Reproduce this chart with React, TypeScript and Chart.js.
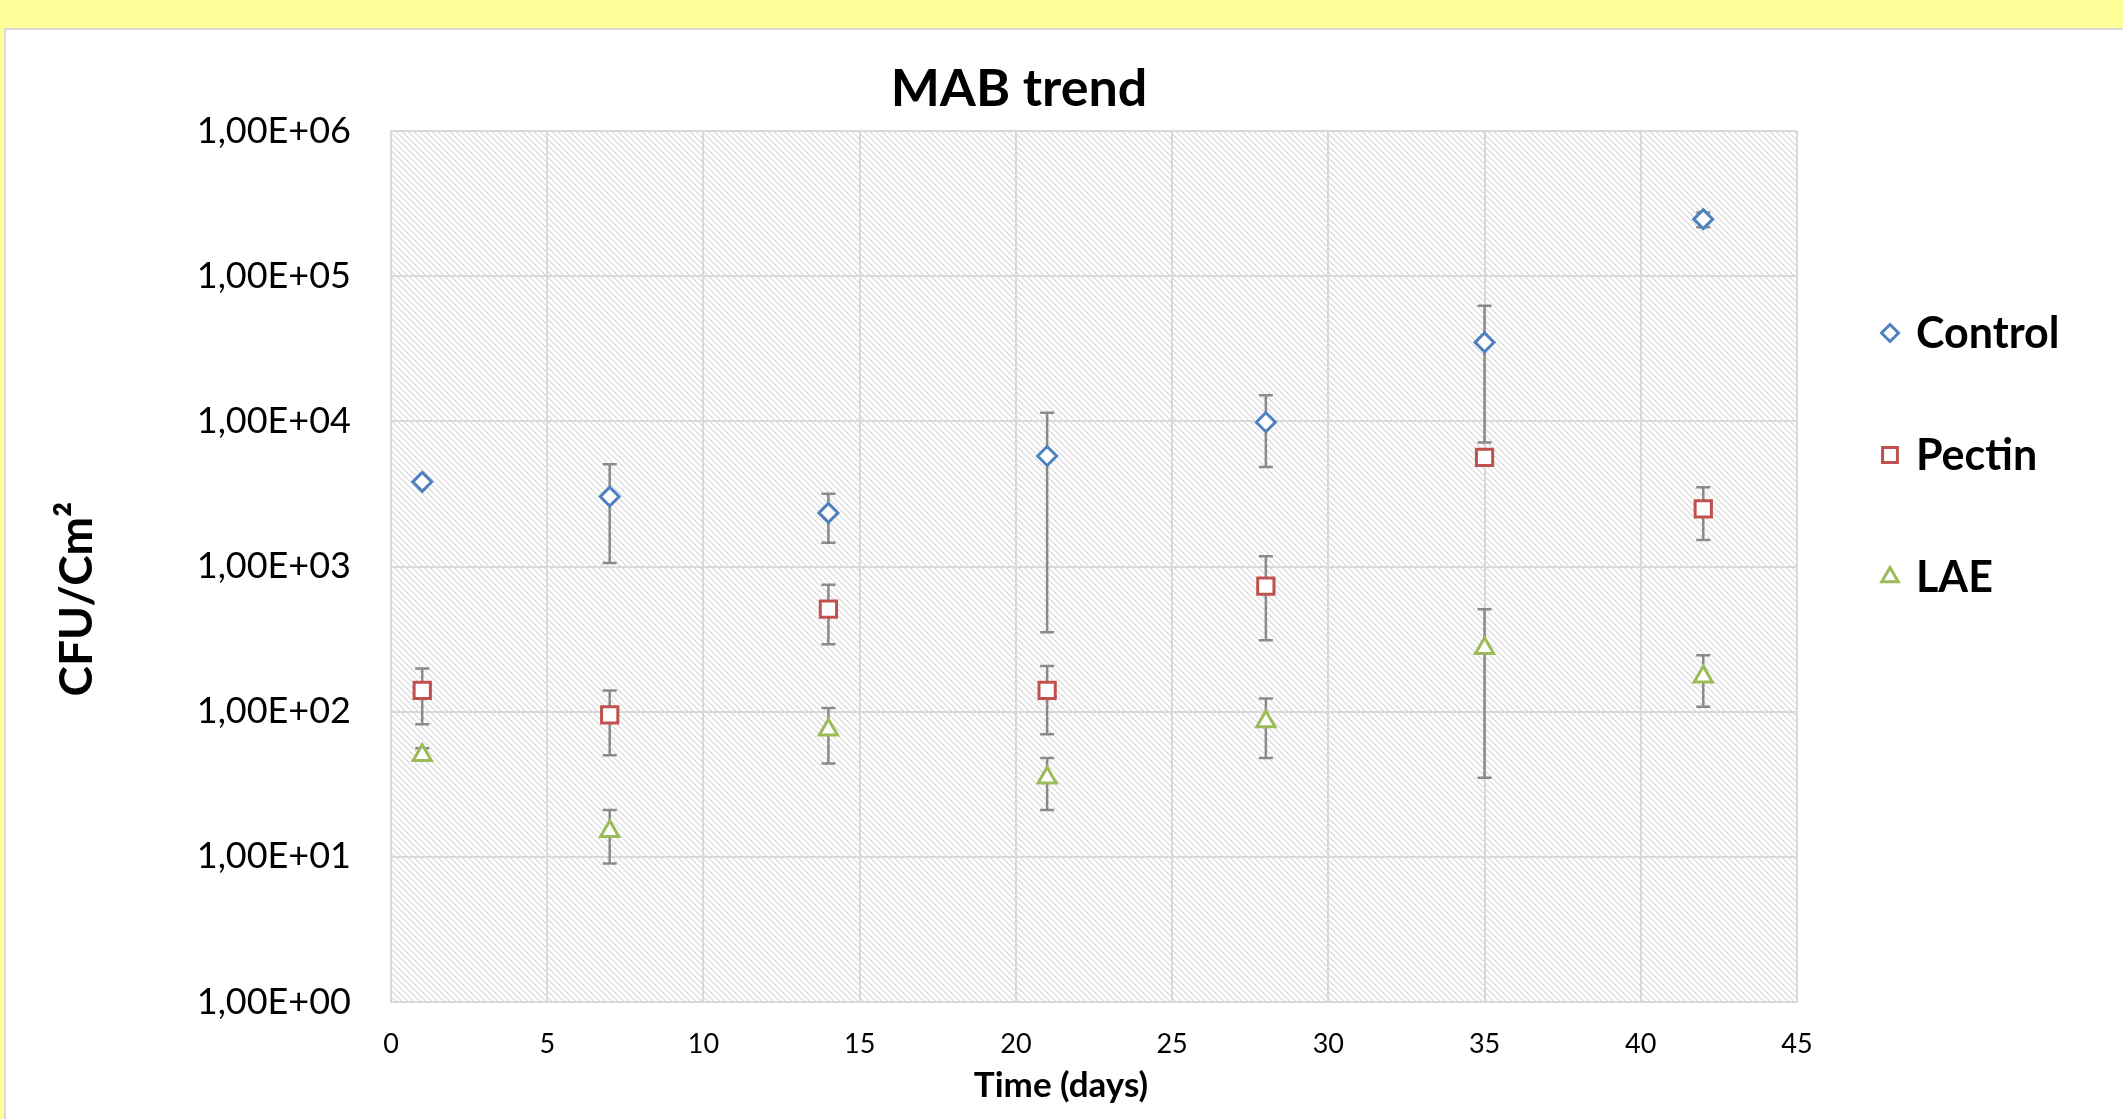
import React, { useEffect, useRef } from 'react';
import { Chart, registerables } from 'chart.js';

Chart.register(...registerables);

// ---- Data ----
const days = [1, 7, 14, 21, 28, 35, 42];

const controlMean = [3830, 3030, 2340, 5770, 9860, 35000, 247000];
const controlLow = [3830, 1055, 1455, 352, 4850, 7150, 217000];
const controlHigh = [3830, 5070, 3170, 11460, 15130, 62500, 275000];

const pectinMean = [140, 95, 508, 140, 733, 5640, 2495];
const pectinLow = [82, 50, 291, 70, 310, 5300, 1520];
const pectinHigh = [198, 140, 748, 206, 1175, 6000, 3520];

const laeMean = [50, 15, 75, 35, 85.6, 273, 174];
const laeLow = [46, 9, 44, 21, 48, 35, 108];
const laeHigh = [56, 21, 106, 48, 123, 508, 245];

const seriesNames = ['Control', 'Pectin', 'LAE'];
const seriesColors = ['#4F81BD', '#C0504D', '#9BBB59'];
const seriesShapes = ['rectRot', 'rect', 'triangle'];

const xTicks = [0, 5, 10, 15, 20, 25, 30, 35, 40, 45];
const yTicks = [1, 10, 100, 1000, 10000, 100000, 1000000];
const yTickLabels = ['1,00E+00', '1,00E+01', '1,00E+02', '1,00E+03', '1,00E+04', '1,00E+05', '1,00E+06'];

const chartTitle = 'MAB trend';
const xTitle = 'Time (days)';
const yTitle = 'CFU/Cm\u00B2';

function makePoints(mean: number[], low: number[], high: number[]) {
  return days.map((d, i) => ({ x: d, y: mean[i], low: low[i], high: high[i] }));
}

const FONT = 'Lato, "Open Sans", sans-serif';
const markerRadii = [9.5, 11.5, 10.5];

function makeHatch(): CanvasPattern | string {
  const c = document.createElement('canvas');
  const n = 6;
  c.width = n;
  c.height = n;
  const g = c.getContext('2d');
  if (!g) return '#f4f4f4';
  g.fillStyle = '#ffffff';
  g.fillRect(0, 0, n, n);
  g.fillStyle = '#e0e0e0';
  for (let i = 0; i < n; i++) {
    g.fillRect(i, i, 1, 1);
    g.fillRect((i + 1) % n, i, 1, 1);
  }
  const p = g.createPattern(c, 'repeat');
  return p || '#f4f4f4';
}

function drawMarker(ctx: CanvasRenderingContext2D, shape: string, x: number, y: number, r: number) {
  ctx.beginPath();
  if (shape === 'rectRot') {
    ctx.moveTo(x, y - r);
    ctx.lineTo(x + r, y);
    ctx.lineTo(x, y + r);
    ctx.lineTo(x - r, y);
    ctx.closePath();
  } else if (shape === 'rect') {
    const s = r * Math.SQRT1_2;
    ctx.rect(x - s, y - s, 2 * s, 2 * s);
  } else {
    ctx.moveTo(x, y - r);
    ctx.lineTo(x + r * Math.sin(Math.PI * 2 / 3), y + r / 2);
    ctx.lineTo(x - r * Math.sin(Math.PI * 2 / 3), y + r / 2);
    ctx.closePath();
  }
  ctx.fill();
  ctx.stroke();
}

export default function App() {
  const canvasRef = useRef<HTMLCanvasElement | null>(null);

  useEffect(() => {
    const canvas = canvasRef.current;
    if (!canvas) return;
    const hatch = makeHatch();

    const backgroundPlugin = {
      id: 'hatchBg',
      beforeDraw(chart: any) {
        const { ctx, chartArea } = chart;
        ctx.save();
        ctx.fillStyle = hatch;
        ctx.fillRect(chartArea.left, chartArea.top, chartArea.right - chartArea.left, chartArea.bottom - chartArea.top);
        ctx.restore();
      },
    };

    const errorBarPlugin = {
      id: 'errorBars',
      beforeDatasetsDraw(chart: any) {
        const { ctx } = chart;
        const xs = chart.scales.x;
        const ys = chart.scales.y;
        ctx.save();
        ctx.strokeStyle = '#8a8a8a';
        ctx.lineWidth = 2.5;
        chart.data.datasets.forEach((ds: any) => {
          ds.data.forEach((pt: any) => {
            if (pt.low === pt.high) return;
            const px = xs.getPixelForValue(pt.x);
            const pTop = ys.getPixelForValue(pt.high);
            const pBot = ys.getPixelForValue(pt.low);
            const cap = 7;
            ctx.beginPath();
            ctx.moveTo(px, pTop);
            ctx.lineTo(px, pBot);
            ctx.moveTo(px - cap, pTop);
            ctx.lineTo(px + cap, pTop);
            ctx.moveTo(px - cap, pBot);
            ctx.lineTo(px + cap, pBot);
            ctx.stroke();
          });
        });
        ctx.restore();
      },
    };

    const textPlugin = {
      id: 'decorations',
      afterDraw(chart: any) {
        const { ctx } = chart;
        ctx.save();
        ctx.fillStyle = '#000000';
        ctx.textBaseline = 'middle';
        // Title
        ctx.textAlign = 'center';
        ctx.font = `bold 52px ${FONT}`;
        ctx.fillText(chartTitle, 1019, 89);
        // X title
        ctx.font = `bold 35px ${FONT}`;
        ctx.fillText(xTitle, 1061, 1086);
        // Y title
        ctx.save();
        ctx.translate(77, 599);
        ctx.rotate(-Math.PI / 2);
        ctx.font = `bold 46px ${FONT}`;
        ctx.fillText(yTitle, 0, 0);
        ctx.restore();
        // Legend
        const legendY = [333, 455, 577];
        chart.data.datasets.forEach((ds: any, i: number) => {
          ctx.fillStyle = '#ffffff';
          ctx.strokeStyle = ds.borderColor;
          ctx.lineWidth = 3;
          drawMarker(ctx, seriesShapes[i], 1890, legendY[i], markerRadii[i] - 1);
          ctx.fillStyle = '#000000';
          ctx.textAlign = 'left';
          ctx.font = `bold 43px ${FONT}`;
          ctx.fillText(ds.label, 1916, legendY[i] + 1);
        });
        ctx.restore();
      },
    };

    const means = [controlMean, pectinMean, laeMean];
    const lows = [controlLow, pectinLow, laeLow];
    const highs = [controlHigh, pectinHigh, laeHigh];

    const datasets = seriesNames.map((name, i) => ({
      label: name,
      data: makePoints(means[i], lows[i], highs[i]),
      borderColor: seriesColors[i],
      backgroundColor: '#ffffff',
      pointBackgroundColor: '#ffffff',
      pointBorderColor: seriesColors[i],
      pointBorderWidth: 3,
      pointStyle: seriesShapes[i],
      pointRadius: markerRadii[i],
      showLine: false,
    }));

    const chart = new Chart(canvas, {
      type: 'scatter',
      data: { datasets },
      plugins: [backgroundPlugin, errorBarPlugin, textPlugin],
      options: {
        responsive: false,
        animation: false,
        devicePixelRatio: 1,
        layout: { padding: { left: 0, top: 131, right: 326, bottom: 0 } },
        plugins: {
          legend: { display: false },
          title: { display: false },
          tooltip: { enabled: false },
        },
        scales: {
          x: {
            type: 'linear',
            min: 0,
            max: 45,
            afterBuildTicks: (scale: any) => {
              scale.ticks = xTicks.map((v) => ({ value: v }));
            },
            afterFit: (scale: any) => {
              scale.height = 117;
            },
            ticks: {
              padding: 26,
              color: '#000000',
              font: { family: FONT, size: 27 },
              callback: (v: any) => String(v),
              maxRotation: 0,
              autoSkip: false,
            },
            grid: { color: '#D9D9D9', lineWidth: 2, drawTicks: false },
            border: { display: true, color: '#D9D9D9', width: 2 },
          },
          y: {
            type: 'logarithmic',
            min: 1,
            max: 1000000,
            afterBuildTicks: (scale: any) => {
              scale.ticks = yTicks.map((v) => ({ value: v }));
            },
            afterFit: (scale: any) => {
              scale.width = 391;
            },
            ticks: {
              padding: 40,
              color: '#000000',
              font: { family: FONT, size: 36 },
              autoSkip: false,
              callback: (v: any) => {
                const idx = yTicks.indexOf(Number(v));
                return idx >= 0 ? yTickLabels[idx] : '';
              },
            },
            grid: { color: '#D9D9D9', lineWidth: 2, drawTicks: false },
            border: { display: true, color: '#D9D9D9', width: 2 },
          },
        },
      } as any,
    });

    return () => {
      chart.destroy();
    };
  }, []);

  return (
    <div
      style={{
        position: 'fixed',
        left: 0,
        top: 0,
        width: 2123,
        height: 1119,
        background: '#FFFF99',
        overflow: 'hidden',
      }}
    >
      <div
        style={{
          position: 'absolute',
          left: 4,
          top: 28,
          width: 2200,
          height: 1200,
          background: '#ffffff',
          border: '2px solid #D9D9D9',
        }}
      />
      <canvas
        ref={canvasRef}
        width={2123}
        height={1119}
        style={{ position: 'absolute', left: 0, top: 0, width: 2123, height: 1119 }}
      />
    </div>
  );
}
